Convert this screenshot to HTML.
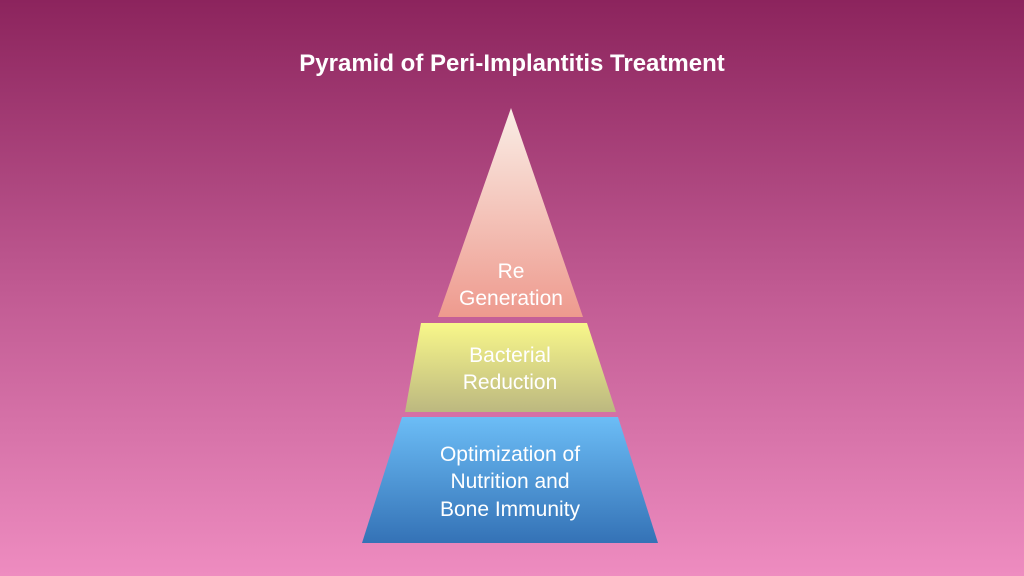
<!DOCTYPE html>
<html><head><style>
html,body{margin:0;width:1024px;height:576px;overflow:hidden}
body{background:linear-gradient(#8c245d,#c05a92 50%,#ee8cc0);font-family:"Liberation Sans",sans-serif}
svg{display:block}
</style></head><body>
<svg width="1024" height="576" xmlns="http://www.w3.org/2000/svg">
<defs>
<linearGradient id="a" x1="0" y1="0" x2="0" y2="1"><stop offset="0" stop-color="#faeee6"/><stop offset="1" stop-color="#ee9a8e"/></linearGradient>
<linearGradient id="b" x1="0" y1="0" x2="0" y2="1"><stop offset="0" stop-color="#f8f78a"/><stop offset="1" stop-color="#bcb880"/></linearGradient>
<linearGradient id="c" x1="0" y1="0" x2="0" y2="1"><stop offset="0" stop-color="#6cbdf6"/><stop offset="1" stop-color="#3472b6"/></linearGradient>
</defs>
<text x="512" y="71" fill="#fff" font-size="24" font-weight="bold" text-anchor="middle">Pyramid of Peri-Implantitis Treatment</text>
<polygon points="511,108 583,317 438,317" fill="url(#a)"/>
<polygon points="421,323 587,323 616,412 405,412" fill="url(#b)"/>
<polygon points="402,417 618,417 658,543 362,543" fill="url(#c)"/>
<g fill="#fff" font-size="21" text-anchor="middle">
<text x="511" y="278">Re</text>
<text x="511" y="305">Generation</text>
<text x="510" y="362">Bacterial</text>
<text x="510" y="389">Reduction</text>
<text x="510" y="461">Optimization of</text>
<text x="510" y="488">Nutrition and</text>
<text x="510" y="516">Bone Immunity</text>
</g>
</svg>
</body></html>
